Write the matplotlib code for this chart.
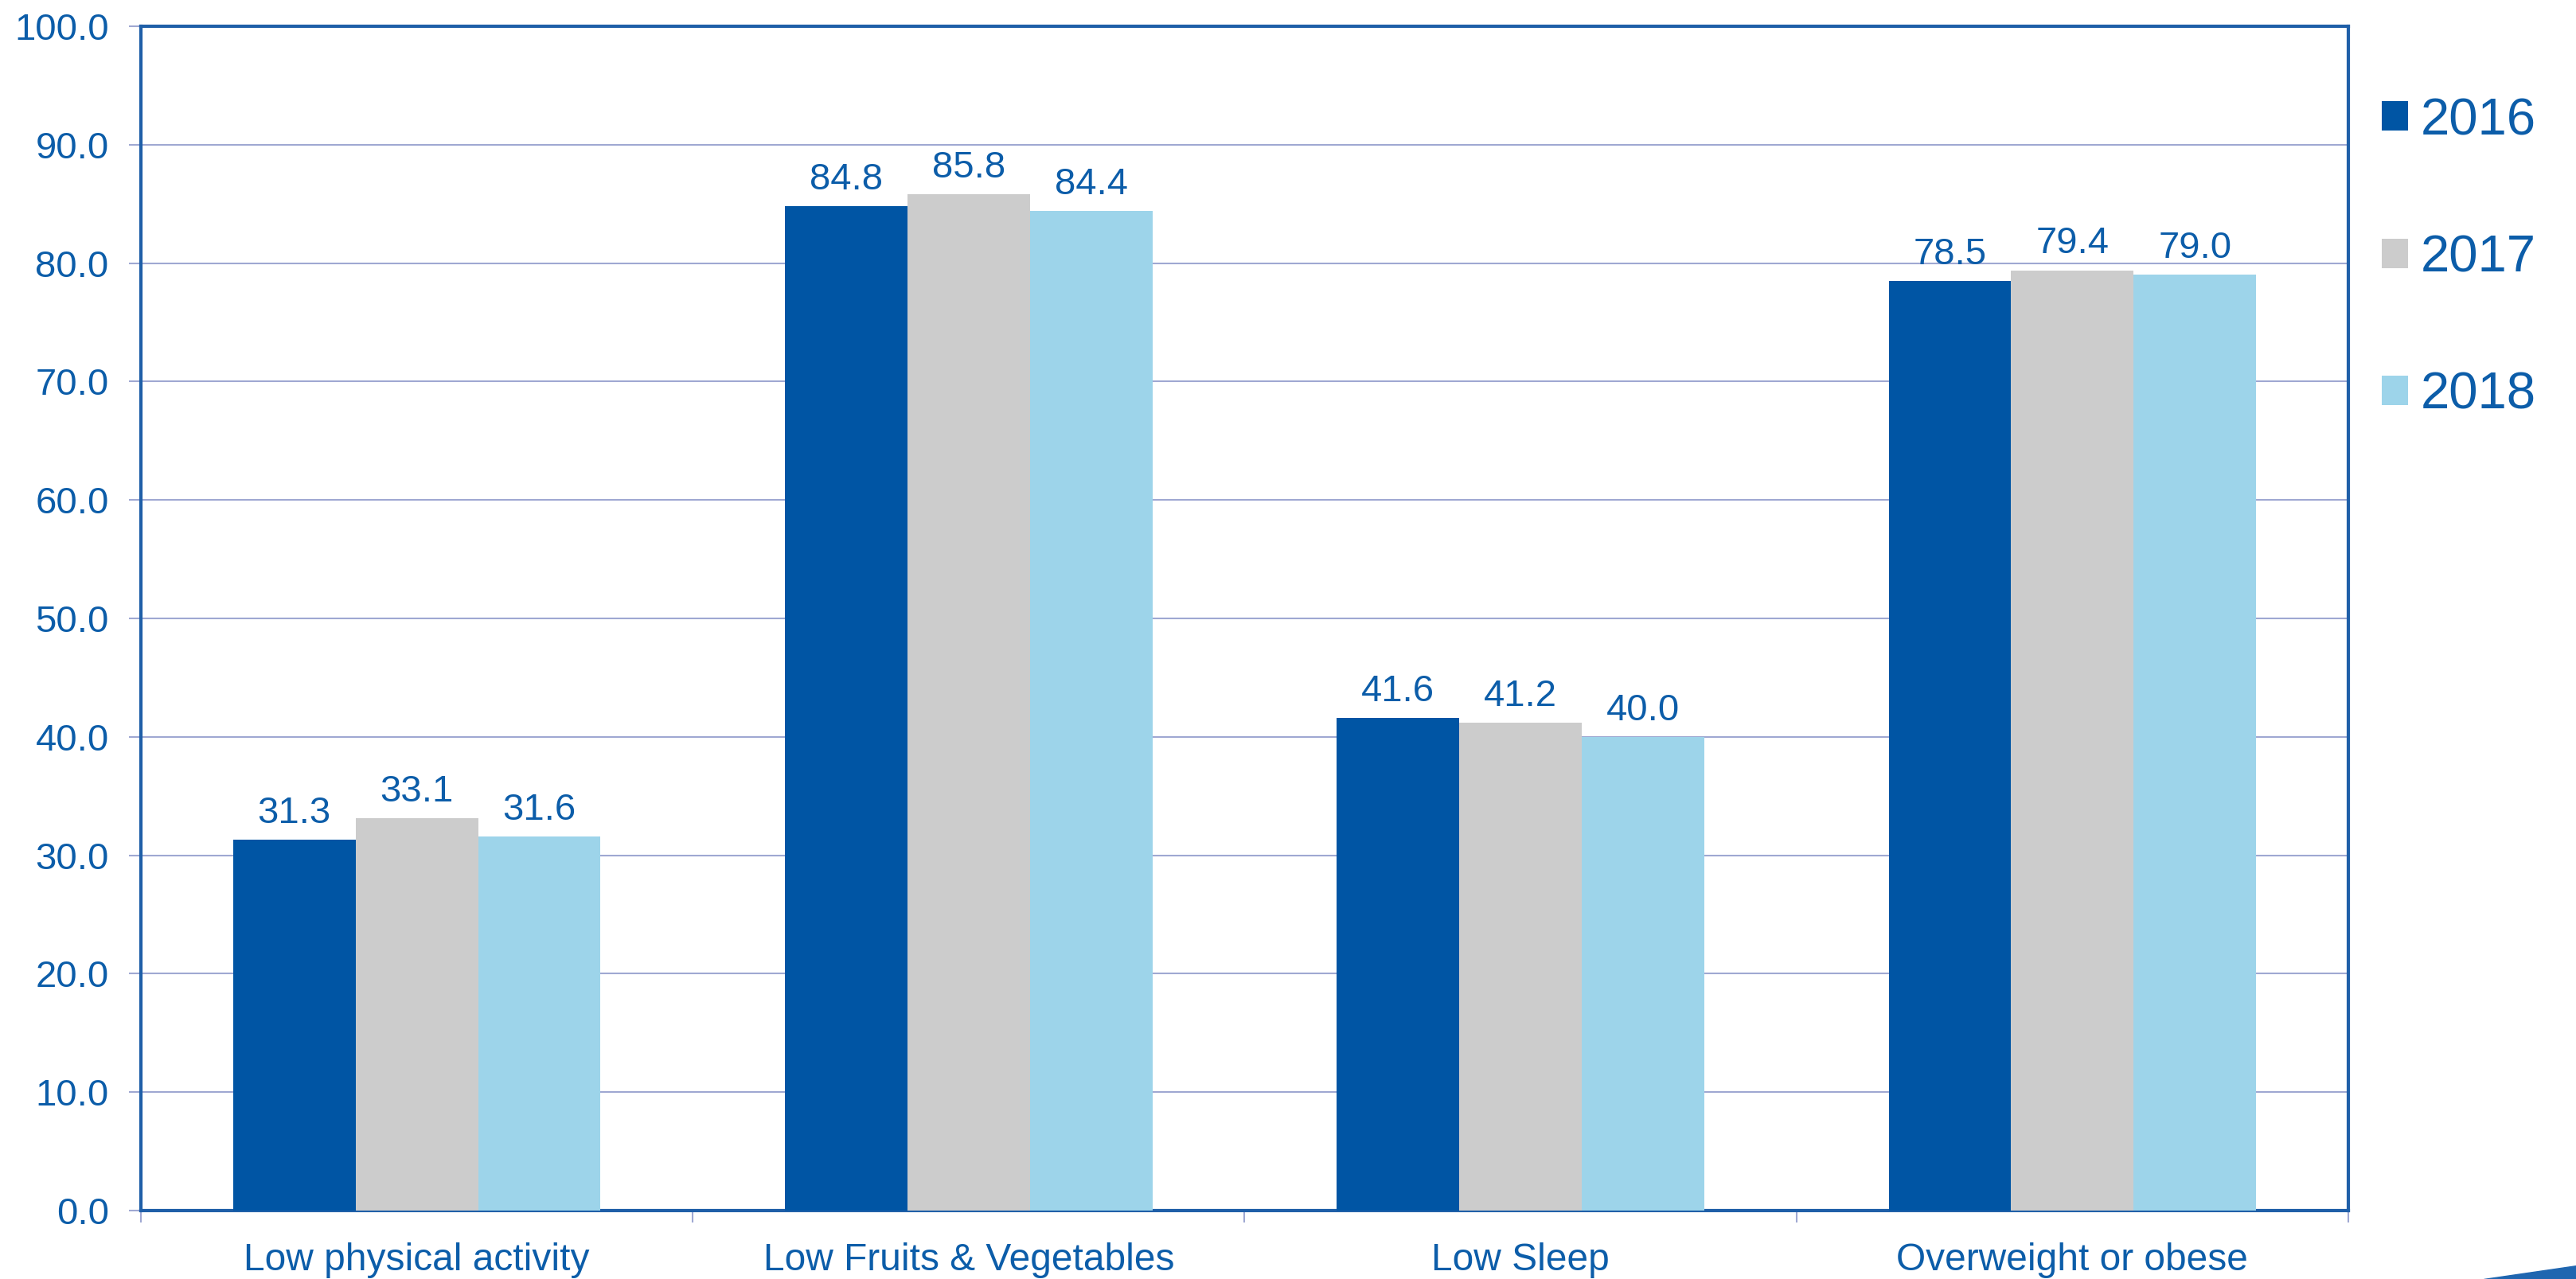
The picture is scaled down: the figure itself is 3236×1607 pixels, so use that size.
import numpy as np
import matplotlib
matplotlib.use("Agg")
import matplotlib.pyplot as plt
from matplotlib.patches import Polygon

plt.rcParams['font.family'] = ['Liberation Sans', 'DejaVu Sans']

categories = ["Low physical activity", "Low Fruits & Vegetables", "Low Sleep", "Overweight or obese"]
years = ["2016", "2017", "2018"]
vals_2016 = [31.3, 84.8, 41.6, 78.5]
vals_2017 = [33.1, 85.8, 41.2, 79.4]
vals_2018 = [31.6, 84.4, 40.0, 79.0]
yticks = [0, 10, 20, 30, 40, 50, 60, 70, 80, 90, 100]

colors = ["#0055A4", "#CCCCCC", "#9DD4EA"]
txt = "#0C5DA9"
spine_c = "#1F5FA8"
grid_c = "#9FA8D2"

W, H = 3237, 1607
fig = plt.figure(figsize=(W / 100, H / 100), dpi=100)
ax = fig.add_axes([177 / W, 1 - 1521 / H, (2950 - 177) / W, (1521 - 33) / H])

x = np.arange(len(categories))
bw = 0.222
series = [vals_2016, vals_2017, vals_2018]
for i, (vals, c, yr) in enumerate(zip(series, colors, years)):
    bars = ax.bar(x + (i - 1) * bw, vals, width=bw, color=c, label=yr, zorder=3)
    ax.bar_label(bars, labels=["%.1f" % v for v in vals], padding=8,
                 fontsize=34, color=txt)

ax.set_xlim(-0.5, len(categories) - 0.5)
ax.set_ylim(0, 100)
ax.set_yticks(yticks)
ax.set_yticklabels(["%.1f" % v for v in yticks])
ax.yaxis.grid(True, color=grid_c, linewidth=1.5, zorder=0)
ax.set_axisbelow(True)

ax.set_xticks(x)
ax.set_xticklabels(categories)
ax.set_xticks(np.arange(-0.5, len(categories)), minor=True)
ax.tick_params(axis='x', which='major', length=0, pad=29, labelsize=34.5, labelcolor=txt)
ax.tick_params(axis='x', which='minor', length=11, width=1.5, color=grid_c)
ax.tick_params(axis='y', length=11, width=1.5, color=grid_c, pad=18, labelsize=34, labelcolor=txt)

for s in ax.spines.values():
    s.set_color(spine_c)
    s.set_linewidth(3)

leg = ax.legend(loc='upper left', bbox_to_anchor=(2992 / W, 1 - 122 / H),
                bbox_transform=fig.transFigure, frameon=False, fontsize=47,
                handlelength=0.5, handleheight=0.5, handletextpad=0.25,
                labelspacing=1.72, borderpad=0, borderaxespad=0)
for t in leg.get_texts():
    t.set_color(txt)

# decorative swoosh in the bottom-right corner
fig.patches.append(Polygon([[3120 / W, 0], [1.0, 0], [1.0, 1 - 1590 / H]],
                           closed=True, transform=fig.transFigure,
                           color="#1F66B0", zorder=0))

fig.savefig("out.png", dpi=100)
